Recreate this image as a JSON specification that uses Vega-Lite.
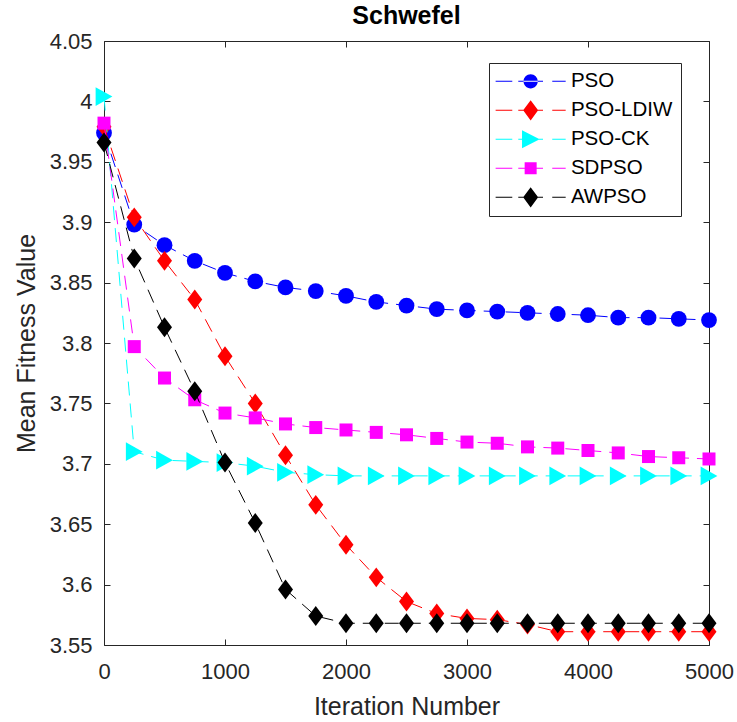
{
  "$schema": "https://vega.github.io/schema/vega-lite/v6.json",
  "width": 605,
  "height": 604,
  "autosize": {"type": "none"},
  "padding": {"left": 104, "top": 41, "right": 28, "bottom": 77},
  "background": "white",
  "title": {"text": "Schwefel", "font": "Liberation Sans", "fontSize": 25, "fontWeight": "bold", "color": "#000000", "baseline": "alphabetic", "offset": -19},
  "data": {"values": [
    {"series": "PSO", "iteration": 0, "fitness": 3.974},
    {"series": "PSO", "iteration": 250, "fitness": 3.898},
    {"series": "PSO", "iteration": 500, "fitness": 3.881},
    {"series": "PSO", "iteration": 750, "fitness": 3.868},
    {"series": "PSO", "iteration": 1000, "fitness": 3.858},
    {"series": "PSO", "iteration": 1250, "fitness": 3.851},
    {"series": "PSO", "iteration": 1500, "fitness": 3.846},
    {"series": "PSO", "iteration": 1750, "fitness": 3.843},
    {"series": "PSO", "iteration": 2000, "fitness": 3.839},
    {"series": "PSO", "iteration": 2250, "fitness": 3.834},
    {"series": "PSO", "iteration": 2500, "fitness": 3.831},
    {"series": "PSO", "iteration": 2750, "fitness": 3.828},
    {"series": "PSO", "iteration": 3000, "fitness": 3.827},
    {"series": "PSO", "iteration": 3250, "fitness": 3.826},
    {"series": "PSO", "iteration": 3500, "fitness": 3.825},
    {"series": "PSO", "iteration": 3750, "fitness": 3.824},
    {"series": "PSO", "iteration": 4000, "fitness": 3.823},
    {"series": "PSO", "iteration": 4250, "fitness": 3.821},
    {"series": "PSO", "iteration": 4500, "fitness": 3.821},
    {"series": "PSO", "iteration": 4750, "fitness": 3.820},
    {"series": "PSO", "iteration": 5000, "fitness": 3.819},
    {"series": "PSO-LDIW", "iteration": 0, "fitness": 3.979},
    {"series": "PSO-LDIW", "iteration": 250, "fitness": 3.904},
    {"series": "PSO-LDIW", "iteration": 500, "fitness": 3.868},
    {"series": "PSO-LDIW", "iteration": 750, "fitness": 3.836},
    {"series": "PSO-LDIW", "iteration": 1000, "fitness": 3.789},
    {"series": "PSO-LDIW", "iteration": 1250, "fitness": 3.750},
    {"series": "PSO-LDIW", "iteration": 1500, "fitness": 3.707},
    {"series": "PSO-LDIW", "iteration": 1750, "fitness": 3.666},
    {"series": "PSO-LDIW", "iteration": 2000, "fitness": 3.633},
    {"series": "PSO-LDIW", "iteration": 2250, "fitness": 3.606},
    {"series": "PSO-LDIW", "iteration": 2500, "fitness": 3.586},
    {"series": "PSO-LDIW", "iteration": 2750, "fitness": 3.576},
    {"series": "PSO-LDIW", "iteration": 3000, "fitness": 3.572},
    {"series": "PSO-LDIW", "iteration": 3250, "fitness": 3.571},
    {"series": "PSO-LDIW", "iteration": 3500, "fitness": 3.567},
    {"series": "PSO-LDIW", "iteration": 3750, "fitness": 3.561},
    {"series": "PSO-LDIW", "iteration": 4000, "fitness": 3.561},
    {"series": "PSO-LDIW", "iteration": 4250, "fitness": 3.561},
    {"series": "PSO-LDIW", "iteration": 4500, "fitness": 3.561},
    {"series": "PSO-LDIW", "iteration": 4750, "fitness": 3.561},
    {"series": "PSO-LDIW", "iteration": 5000, "fitness": 3.561},
    {"series": "PSO-CK", "iteration": 0, "fitness": 4.004},
    {"series": "PSO-CK", "iteration": 250, "fitness": 3.710},
    {"series": "PSO-CK", "iteration": 500, "fitness": 3.703},
    {"series": "PSO-CK", "iteration": 750, "fitness": 3.702},
    {"series": "PSO-CK", "iteration": 1000, "fitness": 3.701},
    {"series": "PSO-CK", "iteration": 1250, "fitness": 3.698},
    {"series": "PSO-CK", "iteration": 1500, "fitness": 3.693},
    {"series": "PSO-CK", "iteration": 1750, "fitness": 3.691},
    {"series": "PSO-CK", "iteration": 2000, "fitness": 3.690},
    {"series": "PSO-CK", "iteration": 2250, "fitness": 3.690},
    {"series": "PSO-CK", "iteration": 2500, "fitness": 3.690},
    {"series": "PSO-CK", "iteration": 2750, "fitness": 3.690},
    {"series": "PSO-CK", "iteration": 3000, "fitness": 3.690},
    {"series": "PSO-CK", "iteration": 3250, "fitness": 3.690},
    {"series": "PSO-CK", "iteration": 3500, "fitness": 3.690},
    {"series": "PSO-CK", "iteration": 3750, "fitness": 3.690},
    {"series": "PSO-CK", "iteration": 4000, "fitness": 3.690},
    {"series": "PSO-CK", "iteration": 4250, "fitness": 3.690},
    {"series": "PSO-CK", "iteration": 4500, "fitness": 3.690},
    {"series": "PSO-CK", "iteration": 4750, "fitness": 3.690},
    {"series": "PSO-CK", "iteration": 5000, "fitness": 3.690},
    {"series": "SDPSO", "iteration": 0, "fitness": 3.982},
    {"series": "SDPSO", "iteration": 250, "fitness": 3.797},
    {"series": "SDPSO", "iteration": 500, "fitness": 3.771},
    {"series": "SDPSO", "iteration": 750, "fitness": 3.753},
    {"series": "SDPSO", "iteration": 1000, "fitness": 3.742},
    {"series": "SDPSO", "iteration": 1250, "fitness": 3.738},
    {"series": "SDPSO", "iteration": 1500, "fitness": 3.733},
    {"series": "SDPSO", "iteration": 1750, "fitness": 3.730},
    {"series": "SDPSO", "iteration": 2000, "fitness": 3.728},
    {"series": "SDPSO", "iteration": 2250, "fitness": 3.726},
    {"series": "SDPSO", "iteration": 2500, "fitness": 3.724},
    {"series": "SDPSO", "iteration": 2750, "fitness": 3.721},
    {"series": "SDPSO", "iteration": 3000, "fitness": 3.718},
    {"series": "SDPSO", "iteration": 3250, "fitness": 3.717},
    {"series": "SDPSO", "iteration": 3500, "fitness": 3.714},
    {"series": "SDPSO", "iteration": 3750, "fitness": 3.713},
    {"series": "SDPSO", "iteration": 4000, "fitness": 3.711},
    {"series": "SDPSO", "iteration": 4250, "fitness": 3.709},
    {"series": "SDPSO", "iteration": 4500, "fitness": 3.706},
    {"series": "SDPSO", "iteration": 4750, "fitness": 3.705},
    {"series": "SDPSO", "iteration": 5000, "fitness": 3.704},
    {"series": "AWPSO", "iteration": 0, "fitness": 3.966},
    {"series": "AWPSO", "iteration": 250, "fitness": 3.870},
    {"series": "AWPSO", "iteration": 500, "fitness": 3.813},
    {"series": "AWPSO", "iteration": 750, "fitness": 3.760},
    {"series": "AWPSO", "iteration": 1000, "fitness": 3.701},
    {"series": "AWPSO", "iteration": 1250, "fitness": 3.651},
    {"series": "AWPSO", "iteration": 1500, "fitness": 3.596},
    {"series": "AWPSO", "iteration": 1750, "fitness": 3.574},
    {"series": "AWPSO", "iteration": 2000, "fitness": 3.568},
    {"series": "AWPSO", "iteration": 2250, "fitness": 3.568},
    {"series": "AWPSO", "iteration": 2500, "fitness": 3.568},
    {"series": "AWPSO", "iteration": 2750, "fitness": 3.568},
    {"series": "AWPSO", "iteration": 3000, "fitness": 3.568},
    {"series": "AWPSO", "iteration": 3250, "fitness": 3.568},
    {"series": "AWPSO", "iteration": 3500, "fitness": 3.568},
    {"series": "AWPSO", "iteration": 3750, "fitness": 3.568},
    {"series": "AWPSO", "iteration": 4000, "fitness": 3.568},
    {"series": "AWPSO", "iteration": 4250, "fitness": 3.568},
    {"series": "AWPSO", "iteration": 4500, "fitness": 3.568},
    {"series": "AWPSO", "iteration": 4750, "fitness": 3.568},
    {"series": "AWPSO", "iteration": 5000, "fitness": 3.568}
  ]},
  "encoding": {
    "x": {"field": "iteration", "type": "quantitative", "scale": {"domain": [0, 5000], "nice": false, "zero": false}, "axis": null},
    "y": {"field": "fitness", "type": "quantitative", "scale": {"domain": [3.55, 4.05], "nice": false, "zero": false}, "axis": null}
  },
  "layer": [
    {
      "transform": [{"filter": "datum.series == 'PSO'"}],
      "mark": {"type": "line", "color": "#0000ff", "strokeWidth": 1, "strokeDash": [14, 8]},
      "encoding": {
        "x": {"field": "iteration", "type": "quantitative", "scale": {"domain": [0, 5000], "nice": false, "zero": false},
              "axis": {"orient": "bottom", "values": [0, 1000, 2000, 3000, 4000, 5000], "format": "d", "title": "Iteration Number", "labelPadding": 22, "titlePadding": 12}},
        "y": {"field": "fitness", "type": "quantitative", "scale": {"domain": [3.55, 4.05], "nice": false, "zero": false},
              "axis": {"orient": "left", "values": [3.55, 3.6, 3.65, 3.7, 3.75, 3.8, 3.85, 3.9, 3.95, 4, 4.05], "format": "~g", "title": "Mean Fitness Value", "labelPadding": 18, "titlePadding": 10}}
      }
    },
    {
      "transform": [{"filter": "datum.series == 'PSO'"}],
      "mark": {"type": "point", "shape": "circle", "size": 250, "filled": true, "opacity": 1, "color": "#0000ff"}
    },
    {
      "transform": [{"filter": "datum.series == 'PSO-LDIW'"}],
      "mark": {"type": "line", "color": "#ff0000", "strokeWidth": 1, "strokeDash": [14, 8]}
    },
    {
      "transform": [{"filter": "datum.series == 'PSO-LDIW'"}],
      "mark": {"type": "point", "shape": "M0,-1.33L1,0L0,1.33L-1,0Z", "size": 225, "filled": true, "opacity": 1, "color": "#ff0000"}
    },
    {
      "transform": [{"filter": "datum.series == 'PSO-CK'"}],
      "mark": {"type": "line", "color": "#00ffff", "strokeWidth": 1, "strokeDash": [14, 8]}
    },
    {
      "transform": [{"filter": "datum.series == 'PSO-CK'"}],
      "mark": {"type": "point", "shape": "M-1.12,-1.25L1.12,0L-1.12,1.25Z", "size": 225, "filled": true, "opacity": 1, "color": "#00ffff"}
    },
    {
      "transform": [{"filter": "datum.series == 'SDPSO'"}],
      "mark": {"type": "line", "color": "#ff00ff", "strokeWidth": 1, "strokeDash": [14, 8]}
    },
    {
      "transform": [{"filter": "datum.series == 'SDPSO'"}],
      "mark": {"type": "point", "shape": "square", "size": 169, "filled": true, "opacity": 1, "color": "#ff00ff"}
    },
    {
      "transform": [{"filter": "datum.series == 'AWPSO'"}],
      "mark": {"type": "line", "color": "#000000", "strokeWidth": 1, "strokeDash": [14, 8]}
    },
    {
      "transform": [{"filter": "datum.series == 'AWPSO'"}],
      "mark": {"type": "point", "shape": "M0,-1.33L1,0L0,1.33L-1,0Z", "size": 225, "filled": true, "opacity": 1, "color": "#000000"}
    },
    {
      "transform": [{"filter": "false"}],
      "mark": {"type": "point", "filled": true, "opacity": 1},
      "encoding": {
        "x": {"field": "iteration", "type": "quantitative", "scale": {"domain": [0, 5000], "nice": false, "zero": false},
              "axis": {"orient": "top", "values": [0, 1000, 2000, 3000, 4000, 5000], "labels": false, "title": null}},
        "y": {"field": "fitness", "type": "quantitative", "scale": {"domain": [3.55, 4.05], "nice": false, "zero": false},
              "axis": {"orient": "right", "values": [3.55, 3.6, 3.65, 3.7, 3.75, 3.8, 3.85, 3.9, 3.95, 4, 4.05], "labels": false, "title": null}},
        "color": {"field": "series", "type": "nominal",
                  "scale": {"domain": ["PSO", "PSO-LDIW", "PSO-CK", "SDPSO", "AWPSO"], "range": ["#0000ff", "#ff0000", "#00ffff", "#ff00ff", "#000000"]},
                  "legend": {"title": null, "orient": "none", "legendX": 385, "legendY": 22, "direction": "vertical"}},
        "shape": {"field": "series", "type": "nominal",
                  "scale": {"domain": ["PSO", "PSO-LDIW", "PSO-CK", "SDPSO", "AWPSO"],
                            "range": [
                              "M-0.95,0A0.95,0.95,0,1,0,0.95,0A0.95,0.95,0,1,0,-0.95,0Z M-4.67,-0.07H-2.45V0.07H-4.67Z M-1.65,-0.07H1.65V0.07H-1.65Z M2.88,-0.07H4.67V0.07H2.88Z",
                              "M0,-1.35L1,0L0,1.35L-1,0Z M-4.67,-0.07H-2.45V0.07H-4.67Z M-1.65,-0.07H1.65V0.07H-1.65Z M2.88,-0.07H4.67V0.07H2.88Z",
                              "M-1.15,-1.2L1.2,0L-1.15,1.2Z M-4.67,-0.07H-2.45V0.07H-4.67Z M-1.65,-0.07H1.65V0.07H-1.65Z M2.88,-0.07H4.67V0.07H2.88Z",
                              "M-0.8,-0.8H0.8V0.8H-0.8Z M-4.67,-0.07H-2.45V0.07H-4.67Z M-1.65,-0.07H1.65V0.07H-1.65Z M2.88,-0.07H4.67V0.07H2.88Z",
                              "M0,-1.35L1,0L0,1.35L-1,0Z M-4.67,-0.07H-2.45V0.07H-4.67Z M-1.65,-0.07H1.65V0.07H-1.65Z M2.88,-0.07H4.67V0.07H2.88Z"
                            ]},
                  "legend": {"title": null, "orient": "none", "legendX": 385, "legendY": 22, "direction": "vertical"}}
      }
    }
  ],
  "resolve": {"axis": {"x": "independent", "y": "independent"}},
  "config": {
    "view": {"stroke": null},
    "axis": {
      "tickSize": -6, "tickColor": "#262626", "tickWidth": 1,
      "domainColor": "#262626", "domainWidth": 1,
      "labelFont": "Liberation Sans", "labelFontSize": 22, "labelColor": "#262626",
      "labelFlush": false, "labelOverlap": false,
      "titleFont": "Liberation Sans", "titleFontSize": 25, "titleFontWeight": "normal", "titleColor": "#262626",
      "grid": false
    },
    "legend": {
      "labelFont": "Liberation Sans", "labelFontSize": 20.5, "labelColor": "#000000", "labelLimit": 0,
      "padding": 8, "rowPadding": 8, "symbolOffset": 23.4, "labelOffset": 30,
      "strokeColor": "#262626", "fillColor": "#ffffff",
      "symbolStrokeWidth": 0, "symbolSize": 225, "symbolOpacity": 1
    }
  }
}
